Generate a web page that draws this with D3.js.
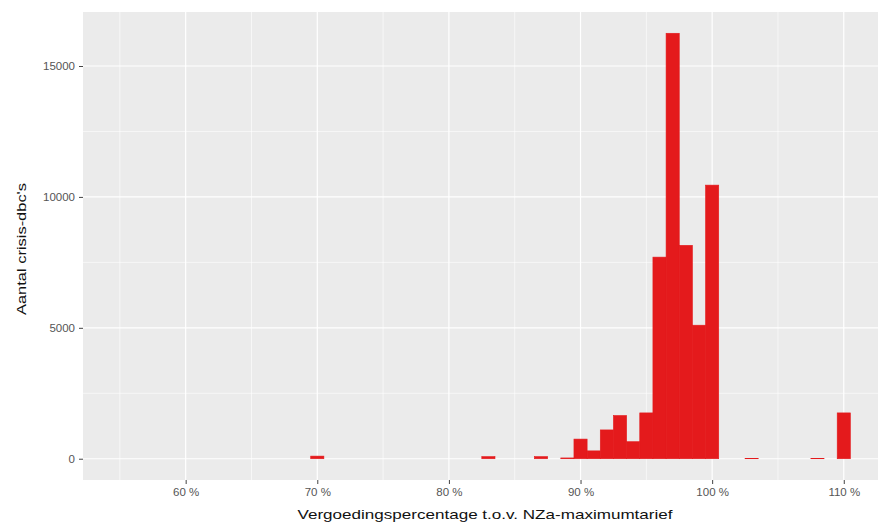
<!DOCTYPE html>
<html>
<head>
<meta charset="utf-8">
<script src="https://cdn.jsdelivr.net/npm/d3@7"></script>
<style>
body{margin:0;background:#fff;}
svg{font-family:"Liberation Sans",Arial,sans-serif;}
</style>
</head>
<body>
<div id="chart"></div>
<script>
// bin centres (% of NZa max tariff), bin width 1 %
var binCenters = [70, 83, 87, 89, 90, 91, 92, 93, 94, 95, 96, 97, 98, 99, 100, 103, 108, 110];
var binCounts  = [100, 80, 80, 30, 750, 300, 1100, 1650, 650, 1750, 7700, 16250, 8150, 5100, 10450, 15, 15, 1750];
var xTicks = [60, 70, 80, 90, 100, 110];
var xMinor = [55, 65, 75, 85, 95, 105];
var yTicks = [0, 5000, 10000, 15000];
var yMinor = [2500, 7500, 12500];

var W = 883, H = 524;
var panel = {left: 83, right: 878, top: 12, bottom: 480};

var svg = d3.select("#chart").append("svg").attr("width", W).attr("height", H);

var x = d3.scaleLinear().domain([52.2, 112.6]).range([panel.left, panel.right]);
var yMax = d3.max(binCounts);
var y = d3.scaleLinear().domain([-yMax*0.05, yMax*1.05]).range([panel.bottom, panel.top]);

svg.append("rect").attr("x", panel.left).attr("y", panel.top)
  .attr("width", panel.right-panel.left).attr("height", panel.bottom-panel.top)
  .attr("fill", "#ebebeb");

// minor grid
svg.selectAll(".vmin").data(xMinor).enter().append("line")
  .attr("x1", function(d){return x(d);}).attr("x2", function(d){return x(d);})
  .attr("y1", panel.top).attr("y2", panel.bottom)
  .attr("stroke", "#fff").attr("stroke-width", 0.6);
svg.selectAll(".hmin").data(yMinor).enter().append("line")
  .attr("y1", function(d){return y(d);}).attr("y2", function(d){return y(d);})
  .attr("x1", panel.left).attr("x2", panel.right)
  .attr("stroke", "#fff").attr("stroke-width", 0.6);
// major grid
svg.selectAll(".vmaj").data(xTicks).enter().append("line")
  .attr("x1", function(d){return x(d);}).attr("x2", function(d){return x(d);})
  .attr("y1", panel.top).attr("y2", panel.bottom)
  .attr("stroke", "#fff").attr("stroke-width", 1.2);
svg.selectAll(".hmaj").data(yTicks).enter().append("line")
  .attr("y1", function(d){return y(d);}).attr("y2", function(d){return y(d);})
  .attr("x1", panel.left).attr("x2", panel.right)
  .attr("stroke", "#fff").attr("stroke-width", 1.2);

// bars
svg.selectAll(".bar").data(binCenters).enter().append("rect")
  .attr("x", function(d){return x(d-0.5);})
  .attr("width", function(d){return x(d+0.5)-x(d-0.5);})
  .attr("y", function(d,i){return y(binCounts[i]);})
  .attr("height", function(d,i){return y(0)-y(binCounts[i]);})
  .attr("fill", "#e41a1c").attr("stroke", "#e41a1c").attr("stroke-width", 0.6);

// axes
var xAxis = d3.axisBottom(x).tickValues(xTicks).tickSize(4).tickPadding(4)
  .tickFormat(function(d){return d+" %";});
var gx = svg.append("g").attr("transform", "translate(0,"+panel.bottom+")").call(xAxis);
var yAxis = d3.axisLeft(y).tickValues(yTicks).tickSize(4).tickPadding(4)
  .tickFormat(d3.format("d"));
var gy = svg.append("g").attr("transform", "translate("+panel.left+",0)").call(yAxis);
[gx, gy].forEach(function(g){
  g.select(".domain").remove();
  g.selectAll(".tick line").attr("stroke", "#444");
  g.selectAll(".tick text").attr("fill", "#555").style("font-size", "11.5px")
    .style("font-family", "'Liberation Sans',Arial,sans-serif");
});

svg.append("text").attr("x", 485).attr("y", 519)
  .attr("text-anchor", "middle").style("font-size", "13.5px").attr("fill", "#111")
  .attr("textLength", 375).attr("lengthAdjust", "spacingAndGlyphs")
  .text("Vergoedingspercentage t.o.v. NZa-maximumtarief");
svg.append("text").attr("transform", "translate(26,249) rotate(-90)")
  .attr("text-anchor", "middle").style("font-size", "13.5px").attr("fill", "#111")
  .attr("textLength", 132).attr("lengthAdjust", "spacingAndGlyphs")
  .text("Aantal crisis-dbc's");
</script>
</body>
</html>
